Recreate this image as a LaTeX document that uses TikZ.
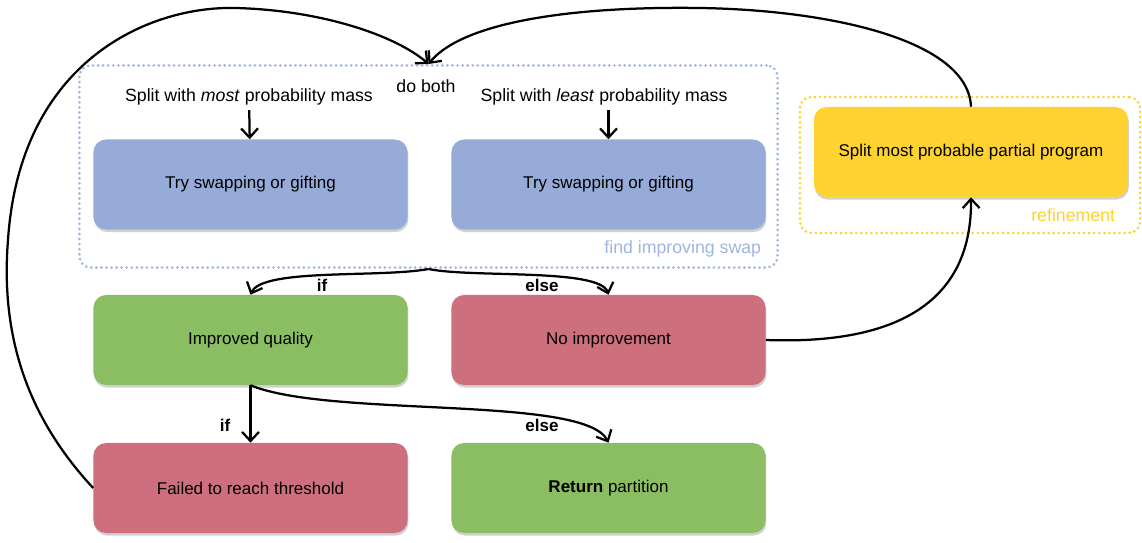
\documentclass[tikz,border=0pt]{standalone}
\usepackage{fontspec}
\setmainfont{Liberation Sans}
\usetikzlibrary{arrows.meta,shadows,fit}

\definecolor{swapblue}{RGB}{151,171,217}
\definecolor{goodgreen}{RGB}{139,190,99}
\definecolor{badred}{RGB}{205,111,125}
\definecolor{refyellow}{RGB}{253,210,49}
\definecolor{swapline}{RGB}{160,180,226}

\tikzset{
  box/.style={rounded corners=9pt, minimum width=7.85cm, minimum height=2.25cm,
    drop shadow={shadow xshift=0.6pt, shadow yshift=-1.8pt, opacity=0.18, fill=black},
    font=\fontsize{12.1}{14}\selectfont},
  group/.style={line width=2.1pt, line cap=round, dash pattern=on 0pt off 3.6pt, rounded corners=8pt},
  flow/.style={line width=1.6pt, -{Straight Barb[length=6.5pt,width=12pt,line width=1.6pt]}},
  tag/.style={font=\bfseries\fontsize{12.1}{14}\selectfont},
  note/.style={font=\fontsize{12.6}{14}\selectfont}
}

\begin{document}
\begin{tikzpicture}[x=0.025cm, y=-0.025cm]
    \useasboundingbox (0,0) rectangle (1142,543);

    % find improving swap
    \node[group, draw=swapline, minimum width=17.45cm, minimum height=5.05cm] (swapbox) at (428.5,166.5) {};
    \node[swapline, note, anchor=south east] (swaplabel) at (766,262) {find improving swap};
    \node[note] (both) at (426,86) {do both};
    \node[note] (most) at (249,97) {Split with \emph{most} probability mass};
    \node[note] (least) at (604,97) {Split with \emph{least} probability mass};
    \node[box, fill=swapblue] (try1) at (250.5,184.5) {Try swapping or gifting};
    \node[box, fill=swapblue] (try2) at (608.5,184.5) {Try swapping or gifting};

    % refinement
    \node[group, draw=refyellow, minimum width=8.5cm, minimum height=3.4cm] (refbox) at (970,165) {};
    \node[refyellow, note, anchor=south east] (reflabel) at (1120,227) {refinement};
    \node[box, fill=refyellow] (split) at (971,152) {Split most probable partial program};

    % outcomes
    \node[box, fill=goodgreen] (better) at (250.5,340) {Improved quality};
    \node[box, fill=badred] (nobetter) at (608.5,340) {No improvement};
    \node[box, fill=badred] (failed) at (250.5,488) {Failed to reach threshold};
    \node[box, fill=goodgreen] (done) at (608.5,488) {\textbf{Return} partition};

    \coordinate (top) at (swapbox.north);
    \coordinate (bottom) at (swapbox.south);

    \draw[flow] (most) -- (try1);
    \draw[flow] (least.south -| try2) -- (try2);

    \draw[flow] (bottom) .. controls (380,278) and (262,268) .. (better.north);
    \draw[flow] (bottom) .. controls (472,278) and (600,268) .. (nobetter.north);
    \node[tag] (if1) at (322,285) {if};
    \node[tag] (else1) at (542,285) {else};

    \draw[flow] (better.south) -- (failed.north);
    \draw[flow] (better.south) .. controls (330,418) and (585,395) .. (done.north);
    \node[tag] (if2) at (225,425) {if};
    \node[tag] (else2) at (542,425) {else};

    \draw[flow] (nobetter.east) .. controls (900,345) and (972,300) .. (split.south);

    % loops back to the top
    \draw[flow] (failed.west) .. controls (30,420) and (0,340) .. (8,240)
        .. controls (20,60) and (150,6) .. (235,8) .. controls (320,10) and (395,35) .. (top);
    \draw[flow] (split.north) .. controls (968,40) and (830,10) .. (700,8)
        .. controls (560,6) and (460,25) .. (top);
\end{tikzpicture}
\end{document}
